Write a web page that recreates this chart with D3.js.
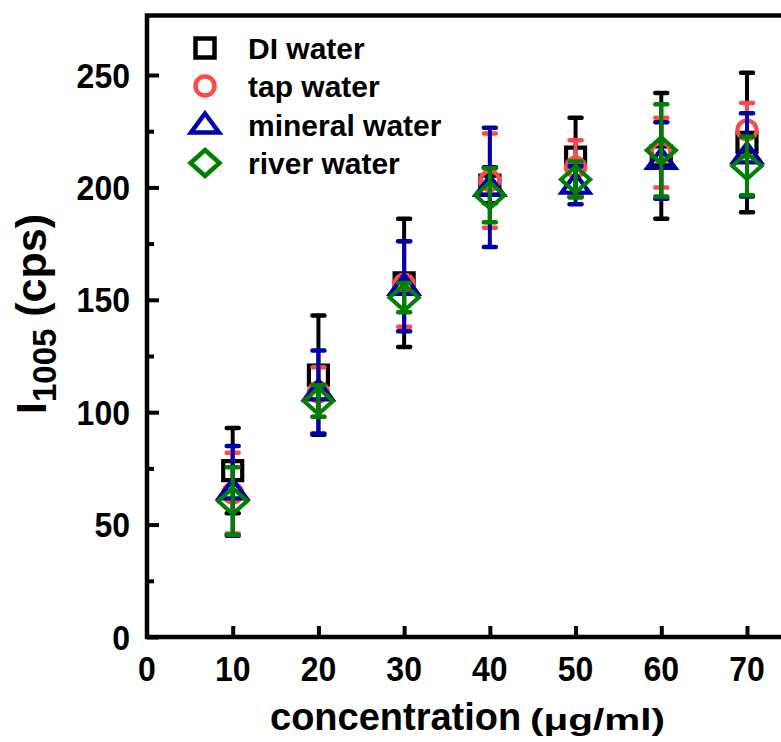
<!DOCTYPE html>
<html>
<head>
<meta charset="utf-8">
<script src="https://cdn.jsdelivr.net/npm/d3@7"></script>
<style>
  html, body { margin: 0; padding: 0; background: #fff; }
  svg { display: block; font-family: Arial, "Liberation Sans", sans-serif; font-weight: bold; }
</style>
</head>
<body>
<svg id="chart" width="781" height="742"></svg>
<script>
// Concentrations (µg/ml)
const concentrations = [10, 20, 30, 40, 50, 60, 70];

// I1005 intensity (cps) and error for each water sample
const diWater      = [74, 116.5, 157.5, 201, 213.5, 214, 220];
const diWaterErr   = [19, 26.5, 28.5, 8, 17.5, 28, 31];
const tapWater     = [64, 109, 157, 203, 209, 215.5, 225.5];
const tapWaterErr  = [18, 11, 19, 21, 12, 15.5, 12];
const mineral      = [65, 109, 156, 200, 201, 212, 214.5];
const mineralErr   = [20, 18.5, 20, 26.5, 8.5, 17, 18.5];
const river        = [60.5, 105, 151, 196.5, 203.5, 216.5, 209.5];
const riverErr     = [15, 7, 6.5, 12, 8, 20.5, 13];

const seriesNames  = ["DI water", "tap water", "mineral water", "river water"];
const seriesColors = ["#000000", "#ff4a4a", "#0000a8", "#008000"];
const seriesShapes = ["square", "circle", "triangle", "diamond"];

const yTicks = [0, 50, 100, 150, 200, 250];
const yMinorTicks = [25, 75, 125, 175, 225];
const xTicks = [0, 10, 20, 30, 40, 50, 60, 70];

const series = [
  { values: diWater, errors: diWaterErr },
  { values: tapWater, errors: tapWaterErr },
  { values: mineral, errors: mineralErr },
  { values: river, errors: riverErr }
].map((s, i) => ({ ...s, name: seriesNames[i], color: seriesColors[i], shape: seriesShapes[i] }));

const svg = d3.select("#chart");

const x = d3.scaleLinear().domain([0, 80]).range([147, 832.7]);
const y = d3.scaleLinear().domain([0, 250]).range([637, 75]);
const yTop = y(276.5);

// Marker path generators, centred on 0,0
function markerPath(shape) {
  switch (shape) {
    case "square":   return "M-9.5,-9.5H9.5V9.5H-9.5Z";
    case "circle":   return "M9.5,0A9.5,9.5 0 1,1 -9.5,0A9.5,9.5 0 1,1 9.5,0Z";
    case "triangle": return "M0,-11.5L14,7.5L-14,7.5Z";
    case "diamond":  return "M0,-13L14.5,0L0,13L-14.5,0Z";
  }
}

const plot = svg.append("g");

// Error bars and markers, one series at a time
series.forEach(s => {
  const g = plot.append("g").attr("stroke", s.color).attr("fill", "none");
  concentrations.forEach((c, i) => {
    const cx = x(c), v = s.values[i], e = s.errors[i];
    g.append("line")
      .attr("x1", cx).attr("x2", cx)
      .attr("y1", y(v - e)).attr("y2", y(v + e))
      .attr("stroke-width", 4);
    [v - e, v + e].forEach(val => {
      g.append("line")
        .attr("x1", cx - 6).attr("x2", cx + 6)
        .attr("y1", y(val)).attr("y2", y(val))
        .attr("stroke-width", 4.5)
        .attr("stroke-linecap", "round");
    });
    g.append("path")
      .attr("d", markerPath(s.shape))
      .attr("transform", `translate(${cx},${y(v)})`)
      .attr("stroke-width", 4.2)
      .attr("stroke-linejoin", "miter");
  });
});

// Frame: left, top and bottom lines (plot runs past the right edge)
svg.append("path")
  .attr("d", `M${x(0)},${yTop}V${y(0)}H${x(80)}M${x(0)},${yTop}H${x(80)}`)
  .attr("fill", "none").attr("stroke", "#000").attr("stroke-width", 4.5)
  .attr("stroke-linecap", "square");

// Y axis ticks (inward)
const yAxis = d3.axisRight(y).tickValues(yTicks).tickSize(12).tickFormat("");
const gy = svg.append("g").attr("transform", `translate(${x(0)},0)`).call(yAxis);
gy.select(".domain").remove();
gy.selectAll("line").attr("stroke-width", 4);
const yMinor = d3.axisRight(y).tickValues(yMinorTicks).tickSize(7).tickFormat("");
const gym = svg.append("g").attr("transform", `translate(${x(0)},0)`).call(yMinor);
gym.select(".domain").remove();
gym.selectAll("line").attr("stroke-width", 4);

// Y tick labels
svg.append("g").selectAll("text").data(yTicks).join("text")
  .attr("transform", d => `translate(130,${y(d)}) scale(1,1.1)`)
  .attr("dy", "0.36em")
  .attr("text-anchor", "end")
  .attr("font-size", 32)
  .text(d => d);

// X axis ticks (inward)
const xAxis = d3.axisTop(x).tickValues(xTicks.filter(d => d > 0)).tickSize(11).tickFormat("");
const gx = svg.append("g").attr("transform", `translate(0,${y(0)})`).call(xAxis);
gx.select(".domain").remove();
gx.selectAll("line").attr("stroke-width", 4);

// X tick labels
svg.append("g").selectAll("text").data(xTicks).join("text")
  .attr("transform", d => `translate(${x(d)},681) scale(1,1.1)`)
  .attr("text-anchor", "middle")
  .attr("font-size", 32)
  .text(d => d);

// Axis titles
svg.append("text")
  .attr("x", 270).attr("y", 730)
  .attr("font-size", 38)
  .text("concentration");
svg.append("text")
  .attr("x", 530).attr("y", 730)
  .attr("font-size", 30)
  .attr("textLength", 135)
  .attr("lengthAdjust", "spacingAndGlyphs")
  .text("(μg/ml)");

const yt = svg.append("text")
  .attr("transform", "translate(46,314) rotate(-90)")
  .attr("text-anchor", "middle")
  .attr("font-size", 43);
yt.append("tspan").text("I");
yt.append("tspan").attr("font-size", 33).attr("dy", 10).text("1005");
yt.append("tspan").attr("dy", -10).text(" (cps)");

// Legend
const legendRows = [48, 86, 125, 163];
const legend = svg.append("g");
series.forEach((s, i) => {
  legend.append("path")
    .attr("d", markerPath(s.shape))
    .attr("transform", `translate(205,${legendRows[i]})`)
    .attr("fill", "none").attr("stroke", s.color).attr("stroke-width", 4.5);
  legend.append("text")
    .attr("x", 248).attr("y", legendRows[i])
    .attr("dy", "0.36em")
    .attr("font-size", 30)
    .text(s.name);
});
</script>
</body>
</html>
